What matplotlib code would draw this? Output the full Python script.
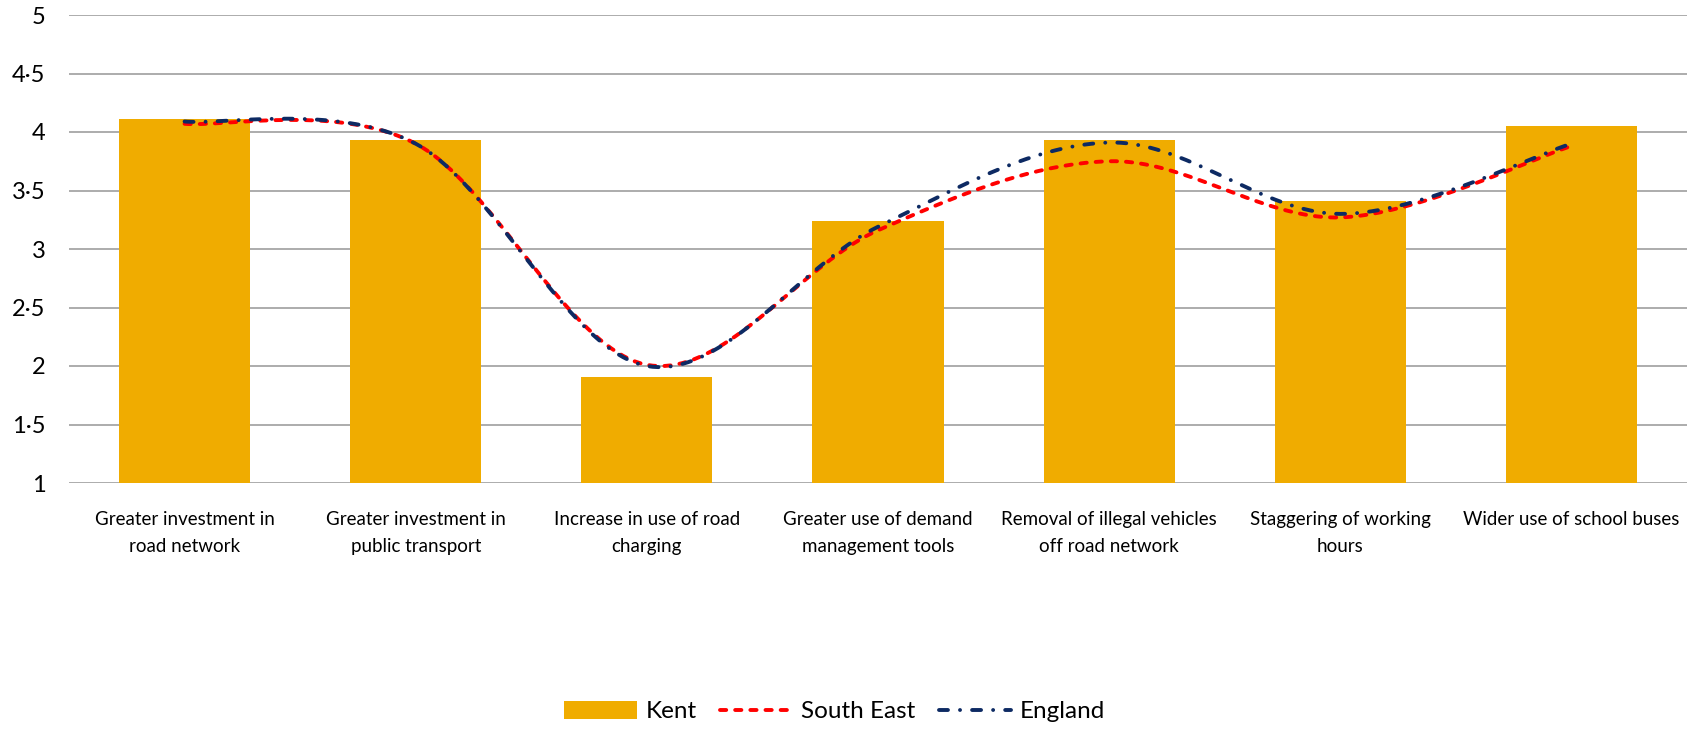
import numpy as np
import matplotlib
matplotlib.use('Agg')
import matplotlib.pyplot as plt
from matplotlib.patches import Patch
from matplotlib.lines import Line2D

plt.rcParams['font.family'] = ['Lato', 'DejaVu Sans']

categories = ['Greater investment in\nroad network',
              'Greater investment in\npublic transport',
              'Increase in use of road\ncharging',
              'Greater use of demand\nmanagement tools',
              'Removal of illegal vehicles\noff road network',
              'Staggering of working\nhours',
              'Wider use of school buses']
kent = [4.11, 3.93, 1.91, 3.24, 3.93, 3.41, 4.05]
south_east = [4.07, 3.90, 2.01, 3.16, 3.75, 3.27, 3.88]
england = [4.09, 3.90, 2.00, 3.19, 3.91, 3.30, 3.90]
y_ticks = [1, 1.5, 2, 2.5, 3, 3.5, 4, 4.5, 5]
y_tick_labels = ['1', '1·5', '2', '2·5', '3', '3·5', '4', '4·5', '5']

BAR = '#F0AC00'
RED = '#FF0000'
NAVY = '#0D2A63'
LW = 2.8
SE_DASH = dict(dashes=(1.6, 2.3), dash_capstyle='round')
ENG_DASH = dict(dashes=(2.3, 3.1, 0.01, 3.1), dash_capstyle='round')


def smooth(x, y, n=40):
    # bezier smoothing like spreadsheet "smoothed line"
    x = np.asarray(x, float)
    y = np.asarray(y, float)
    px = np.concatenate([[x[0]], x, [x[-1]]])
    py = np.concatenate([[y[0]], y, [y[-1]]])
    xs, ys = [], []
    t = np.linspace(0, 1, n)
    for i in range(1, len(px) - 2):
        p0 = np.array([px[i], py[i]])
        p3 = np.array([px[i + 1], py[i + 1]])
        c1 = p0 + (np.array([px[i + 1], py[i + 1]]) - np.array([px[i - 1], py[i - 1]])) / 6
        c2 = p3 - (np.array([px[i + 2], py[i + 2]]) - np.array([px[i], py[i]])) / 6
        b = ((1 - t) ** 3)[:, None] * p0 + (3 * (1 - t) ** 2 * t)[:, None] * c1 \
            + (3 * (1 - t) * t ** 2)[:, None] * c2 + (t ** 3)[:, None] * p3
        xs.extend(b[:, 0])
        ys.extend(b[:, 1])
    return np.array(xs), np.array(ys)


fig = plt.figure(figsize=(17, 7.29), dpi=100)
ax = fig.add_axes([69 / 1700, 1 - 483 / 729, (1687 - 69) / 1700, (483 - 15) / 729])

x = np.arange(len(categories))
ax.bar(x, np.array(kent) - 1, bottom=1, width=0.567, color=BAR, zorder=2)

sx, sy = smooth(x, south_east)
ax.plot(sx, sy, color=RED, lw=LW, zorder=3, **SE_DASH)
ex, ey = smooth(x, england)
ax.plot(ex, ey, color=NAVY, lw=LW, zorder=3, **ENG_DASH)

ax.set_xlim(-0.5, len(categories) - 0.5)
ax.set_ylim(1, 5)
ax.set_yticks(y_ticks)
ax.set_yticklabels(y_tick_labels)
ax.set_xticks(x)
ax.set_xticklabels(categories, linespacing=1.7)
ax.yaxis.grid(True, color='#A6A6A6', lw=1.3, zorder=0)
ax.set_axisbelow(True)
for s in ['top', 'right', 'left', 'bottom']:
    ax.spines[s].set_visible(False)
ax.tick_params(axis='y', length=0, pad=17, labelsize=17)
ax.tick_params(axis='x', length=0, pad=20, labelsize=13.5)

handles = [Patch(facecolor=BAR, label='Kent'),
           Line2D([], [], color=RED, lw=LW, label='South East', **SE_DASH),
           Line2D([], [], color=NAVY, lw=LW, label='England', **ENG_DASH)]
fig.legend(handles=handles, loc='center', bbox_to_anchor=(0.491, 0.024), ncol=3, frameon=False,
           fontsize=17.5, handlelength=3.0, handleheight=0.78, handletextpad=0.35, columnspacing=0.95)

fig.savefig('out.png', dpi=100)
